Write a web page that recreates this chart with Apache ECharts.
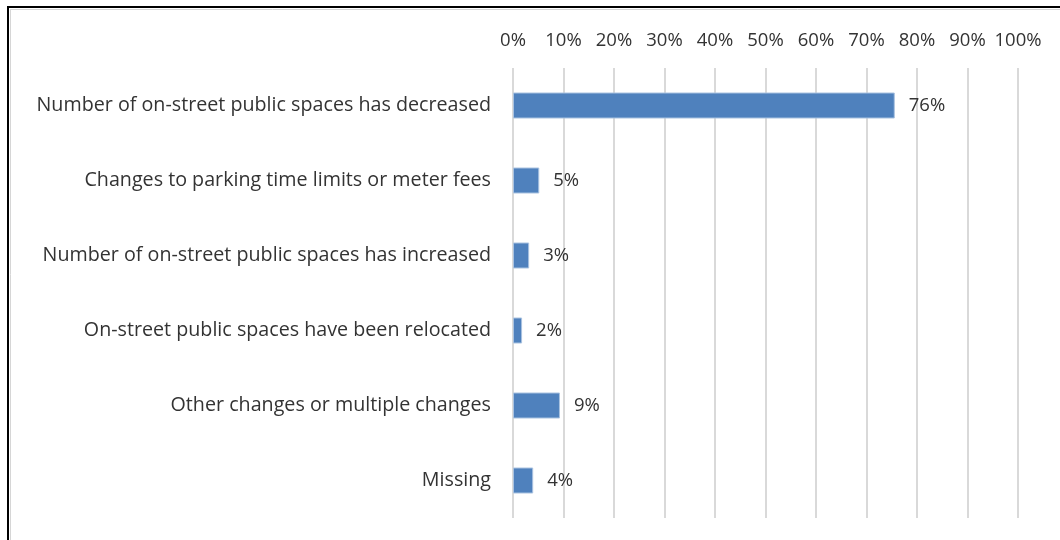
<!DOCTYPE html>
<html>
<head>
<meta charset="utf-8">
<title>Parking changes</title>
<script src="https://cdn.jsdelivr.net/npm/echarts@6/dist/echarts.min.js"></script>
<style>
	html, body { margin: 0; padding: 0; background: #fff; }
	#chart { width: 1060px; height: 540px; }
</style>
</head>
<body>
<div id="chart"></div>
<script>
//   categories, top to bottom
var categories = [
	'Number of on-street public spaces has decreased',
	'Changes to parking time limits or meter fees',
	'Number of on-street public spaces has increased',
	'On-street public spaces have been relocated',
	'Other changes or multiple changes',
	'Missing'
];
//   share of responses (%)
var shares = [75.6, 5.2, 3.2, 1.8, 9.3, 4.0];
//   value axis
var axisMin = 0;
var axisMax = 100;
var axisStep = 10;

var FONT = '"Open Sans", "Noto Sans", sans-serif';
var TEXT = '#333';

var chart = echarts.init(document.getElementById('chart'));

var option = {
	animation: false,
	backgroundColor: '#fff',
	grid: {
		left: 513,
		right: 42,
		top: 68,
		bottom: 22,
		containLabel: false
	},
	xAxis: {
		type: 'value',
		position: 'top',
		min: axisMin,
		max: axisMax,
		interval: axisStep,
		axisLine: { show: false },
		axisTick: { show: false },
		axisLabel: {
			formatter: '{value}%',
			color: TEXT,
			fontFamily: FONT,
			fontSize: 18.5,
			margin: 18
		},
		splitLine: {
			show: true,
			lineStyle: { color: '#d9d9d9', width: 2 }
		}
	},
	yAxis: {
		type: 'category',
		inverse: true,
		data: categories,
		axisLine: { show: false },
		axisTick: { show: false },
		axisLabel: {
			color: TEXT,
			fontFamily: FONT,
			fontSize: 19.7,
			margin: 22
		}
	},
	series: [{
		type: 'bar',
		data: shares,
		barWidth: 26,
		itemStyle: {
			color: '#4f81bd',
			borderColor: '#a9c2e0',
			borderWidth: 1
		},
		label: {
			show: true,
			position: 'right',
			distance: 14,
			color: TEXT,
			fontFamily: FONT,
			fontSize: 18.5,
			formatter: function (p) {
				return Math.round(p.value) + '%';
			}
		}
	}],
	//   frame of the original figure, cut at the right and bottom
	graphic: [
		{ type: 'line', shape: { x1: 8, y1: 7, x2: 1060, y2: 7 }, style: { stroke: '#000', lineWidth: 2 } },
		{ type: 'line', shape: { x1: 8, y1: 6, x2: 8, y2: 540 }, style: { stroke: '#000', lineWidth: 2 } },
		{ type: 'line', shape: { x1: 10, y1: 9.5, x2: 1060, y2: 9.5 }, style: { stroke: '#d6d6d6', lineWidth: 1 } },
		{ type: 'line', shape: { x1: 10.5, y1: 9, x2: 10.5, y2: 540 }, style: { stroke: '#d6d6d6', lineWidth: 1 } }
	]
};

chart.setOption(option);
</script>
</body>
</html>
